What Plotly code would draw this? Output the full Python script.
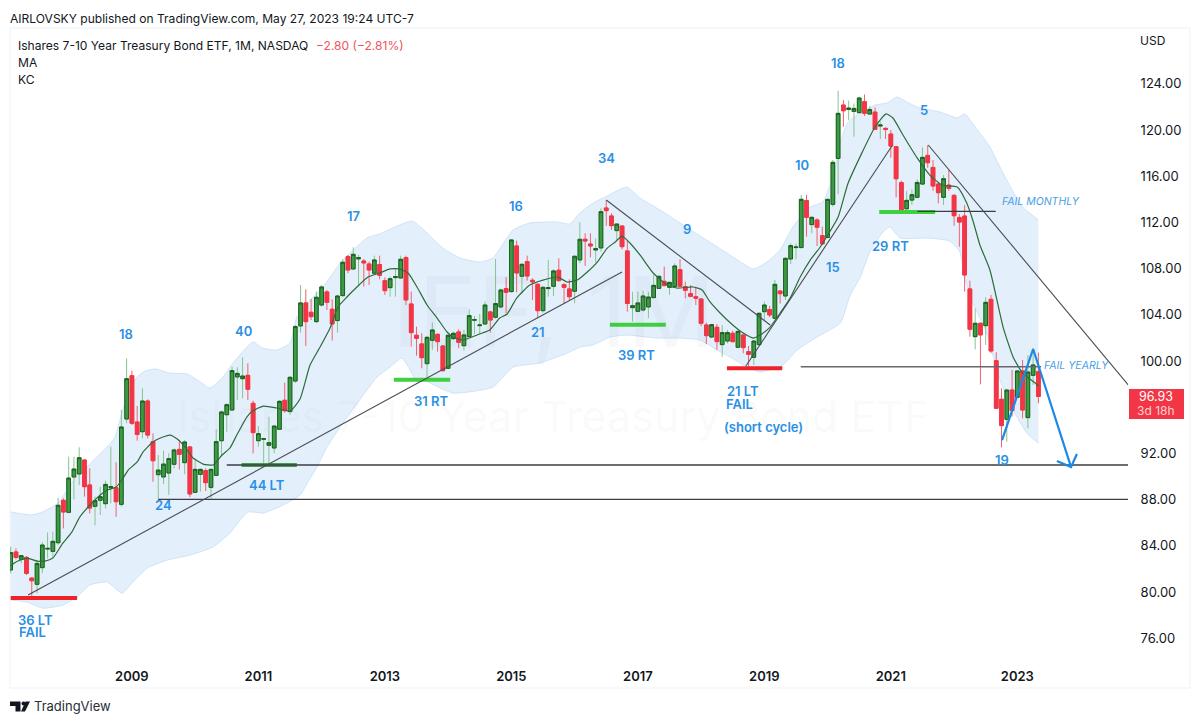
import pandas as pd
import plotly.graph_objects as go

# Monthly IEF candles, Feb 2007 to May 2023
first_month = "2007-02-01"

open_prices = [
    81.91,83.47,82.83,83.00,81.21,80.67,82.11,83.72,83.52,84.27,
    87.94,86.90,89.96,90.22,91.43,89.27,87.42,87.94,87.65,89.03,
    89.03,87.59,94.98,98.73,94.72,93.88,96.54,93.02,90.16,89.96,
    90.30,91.06,92.35,91.20,92.56,88.63,90.19,90.51,89.06,90.10,
    93.10,95.35,95.76,98.62,98.47,98.76,96.34,93.10,93.22,92.70,
    92.47,94.09,96.60,95.62,98.27,103.04,105.03,104.22,103.41,104.85,
    105.98,104.48,103.50,105.66,109.04,107.97,108.84,108.66,108.40,107.60,
    108.35,106.96,106.35,107.22,107.19,108.95,104.94,102.23,101.48,99.77,
    101.79,102.31,101.30,99.37,101.94,102.52,101.33,102.11,103.53,103.06,
    103.21,104.25,103.79,104.68,106.27,106.01,109.96,107.34,108.61,106.99,
    106.64,104.36,106.27,106.47,107.86,106.61,106.24,106.04,108.75,110.54,
    110.13,109.61,109.79,113.25,112.56,111.29,111.69,109.53,104.62,104.30,
    104.42,104.68,105.49,106.29,106.90,106.38,106.44,107.91,106.44,105.83,
    105.57,105.37,103.12,102.08,102.92,101.42,101.73,102.40,101.19,102.25,
    100.81,100.32,101.42,104.27,104.45,103.70,106.06,105.63,108.83,109.82,
    109.82,113.89,111.81,112.21,110.85,110.70,113.56,117.54,122.16,121.78,
    121.61,121.50,122.45,121.38,121.55,120.34,120.14,119.65,118.55,115.44,
    113.18,113.93,114.17,115.32,117.80,116.76,115.32,114.17,115.23,114.34,
    112.43,112.55,106.24,102.11,103.27,103.06,105.34,100.03,96.69,94.95,
    97.49,96.86,99.14,95.10,98.76,99.08,
]
high_prices = [
    83.93,83.78,83.20,83.12,81.27,82.77,84.33,85.17,85.23,88.17,
    88.11,91.72,91.72,92.53,91.49,90.71,88.26,89.12,89.64,92.59,
    91.23,95.76,100.23,99.17,96.11,97.64,96.68,93.74,91.86,92.24,
    92.01,92.44,93.16,93.16,92.64,91.57,90.71,90.71,90.71,94.09,
    95.70,96.34,99.51,99.45,100.32,99.80,96.57,94.37,93.36,95.18,
    94.46,96.62,98.13,98.70,103.12,106.58,106.21,105.37,106.01,106.58,
    106.15,105.34,105.72,108.81,109.18,109.85,109.18,108.84,108.61,109.12,
    109.12,107.25,107.31,108.03,109.12,109.12,106.01,102.98,102.40,102.17,
    103.35,102.40,101.39,102.29,102.54,102.75,102.69,104.48,103.90,104.07,
    105.14,104.36,108.84,106.27,107.25,110.54,110.42,108.46,109.12,107.16,
    106.73,106.50,108.75,107.94,108.89,106.73,107.08,109.12,112.01,111.06,
    111.06,110.62,113.22,113.94,112.79,111.92,111.69,110.42,106.00,106.00,
    106.09,106.00,107.45,107.45,108.17,106.87,108.46,108.81,106.87,106.58,
    106.44,105.43,103.32,103.21,103.21,103.12,102.69,102.63,102.63,102.40,
    101.30,101.82,104.19,105.14,104.77,107.02,106.15,108.98,110.19,110.19,
    114.38,114.38,112.50,112.36,111.63,114.08,117.40,123.40,122.59,122.54,
    122.30,122.88,123.08,122.07,121.96,120.72,120.23,120.00,118.61,115.61,
    114.71,114.86,115.72,118.49,118.70,117.40,115.52,116.10,116.53,114.45,
    112.72,113.50,106.96,104.56,103.32,105.52,105.72,100.76,97.64,97.58,
    99.23,99.23,100.09,100.52,101.10,100.73,
]
low_prices = [
    81.62,82.83,82.48,81.47,79.66,79.89,81.62,82.92,83.06,84.07,
    85.51,86.81,88.02,89.27,88.26,86.81,85.77,86.67,87.25,87.68,
    86.52,87.39,94.61,94.46,93.10,93.31,93.31,89.55,88.02,89.35,
    88.40,90.71,90.62,90.19,88.20,88.60,88.69,88.75,88.11,90.05,
    91.86,93.88,95.70,96.62,96.77,96.62,92.01,92.59,90.91,90.97,
    92.01,94.03,95.53,95.33,98.10,102.46,101.30,103.55,103.27,104.71,
    104.42,101.77,102.46,105.57,107.60,107.88,106.58,106.44,106.58,107.45,
    107.08,105.72,105.57,105.57,107.16,104.85,101.25,100.47,99.37,98.59,
    100.96,100.81,99.08,99.31,101.82,101.10,100.90,102.03,102.34,102.34,
    103.12,102.46,103.67,104.56,104.13,105.92,105.95,105.86,106.96,105.29,
    103.70,104.19,105.57,105.63,106.87,105.00,105.29,105.00,108.46,108.23,
    108.98,108.52,109.47,111.69,111.35,110.48,109.67,104.27,103.41,104.22,
    104.27,103.70,105.43,106.24,106.47,105.72,106.38,106.38,105.43,105.52,
    104.85,103.03,101.47,101.97,100.96,100.38,101.53,101.59,101.10,100.67,
    99.51,99.66,101.30,103.55,103.78,103.61,104.98,105.28,108.40,108.81,
    109.76,110.77,111.06,109.96,110.04,110.62,113.36,114.45,120.28,120.86,
    119.42,121.44,121.21,121.38,120.00,119.22,119.22,117.60,114.17,112.78,
    112.93,113.50,114.08,115.23,116.73,114.74,113.65,113.50,114.74,111.71,
    109.89,106.01,102.11,101.00,97.98,101.39,100.67,95.91,92.53,93.02,
    95.19,96.77,95.04,94.18,97.93,96.34,
]
close_prices = [
    83.41,83.00,83.15,81.62,80.98,82.48,84.07,83.78,84.39,87.51,
    86.93,89.87,90.65,91.63,89.12,87.27,87.91,88.26,89.32,89.12,
    87.82,94.29,98.47,94.61,93.65,96.54,93.59,91.37,90.56,91.08,
    91.55,92.30,91.92,92.99,88.49,90.62,90.62,89.47,90.62,93.02,
    95.59,96.22,99.17,98.93,98.70,97.55,93.80,93.71,93.28,92.93,
    94.37,96.51,95.70,98.59,102.98,105.03,103.41,103.84,105.52,106.41,
    105.08,103.21,105.63,108.55,107.88,109.24,108.95,108.49,107.88,108.75,
    107.42,106.09,107.13,107.31,108.81,105.29,102.46,101.97,100.29,102.05,
    102.69,101.68,99.17,102.23,102.40,101.62,102.26,103.93,103.58,103.12,
    104.85,103.55,104.97,106.15,105.95,110.48,107.62,108.37,107.36,106.85,
    104.36,106.38,106.35,107.80,106.96,106.38,105.57,109.07,110.54,110.39,
    109.96,109.73,112.93,113.02,111.72,111.86,109.90,104.98,104.79,105.03,
    105.63,105.54,106.55,107.33,106.53,106.81,108.23,106.47,106.12,105.60,
    105.43,103.27,102.20,103.15,101.68,102.46,102.46,101.68,102.57,101.16,
    100.58,101.73,104.13,104.85,103.99,106.64,105.83,108.89,109.99,109.87,
    114.00,112.44,112.44,111.58,110.15,113.99,117.20,121.44,121.67,121.90,
    121.87,122.77,121.44,121.78,120.05,120.43,120.05,118.61,115.78,112.84,
    113.91,114.40,115.46,117.63,117.17,115.15,114.57,115.78,114.95,112.58,
    112.03,107.45,102.75,103.27,102.26,105.08,100.87,95.91,94.41,97.49,
    95.71,99.14,95.76,99.05,99.66,96.93,
]

# Moving average, sampled along the month axis
ma_months = [
    0,1,3.1,5,6.5,8,9.9,11.6,13.1,14.7,17,18.3,20,21.1,22.3,24,25.1,27,28.9,30.2,
    31.6,33.1,34.6,36.5,38.4,40.1,41.6,42.9,44.8,45.9,47.9,50.5,53,54.9,56.8,58.7,
    60.6,62.1,63.8,65.7,67.8,70,72,73.8,75.4,77.1,79,80.9,82.8,83.9,85.8,89,90.9,
    92.8,94.2,96,98.5,101,103.8,105.6,107.5,109.4,111.3,113.2,114.7,116,117.5,119.4,
    121.9,124.6,126.4,129.5,131.2,132.7,134.6,137,139,140.9,142.2,144.1,146,147.9,
    149.8,151.7,153.6,157,158.9,164,166.1,167.4,169.3,172,174.4,176.7,179.6,181.4,
    182.6,183.9,185.8,188.3,190.2,192,194.4,195,
]
ma_values = [
    82.25,82.60,82.94,82.68,82.68,82.94,84.24,85.19,86.49,87.36,88.40,88.83,89.09,89.70,
    90.56,91.26,92.12,92.99,93.42,93.59,93.25,92.55,91.60,91.08,91.00,91.86,92.47,93.59,
    95.15,95.67,96.10,95.93,95.67,96.71,99.65,101.21,102.86,104.68,105.54,106.41,107.27,
    107.62,107.97,107.97,107.62,106.41,104.85,103.72,102.51,102.08,101.82,102.34,102.68,
    103.72,104.07,105.45,106.58,107.01,107.27,106.84,107.01,107.71,108.57,109.78,110.30,
    110.82,110.22,109.18,107.62,106.58,106.32,106.41,106.15,105.11,104.16,103.12,102.42,
    101.99,102.25,102.94,104.16,105.45,107.27,108.74,109.87,112.47,115.41,120.26,121.39,
    121.04,119.57,117.58,116.10,115.24,115.06,113.68,112.12,110.04,107.88,102.94,100.35,
    98.96,98.10,97.84,
]

# Keltner channel edges
kc_upper_months = [
    0,4,6,9,12,18.3,19.8,21.1,22.3,24,25.5,27.4,30.2,33.5,36,37.8,40.3,42.2,46,47.7,50.5,
    53,54.3,56.8,59.3,62.5,65,67.6,70,72.5,76.2,79,82,85.2,89,91.5,95.3,98.5,103.7,106.1,
    108,110.5,112.8,116.9,119.4,123.2,127,131.4,135.9,140.9,143.5,146,148.4,151.7,154.1,
    156.4,157.4,158.9,161.2,164,166.3,168.2,170,172.5,176.3,179.6,181,183.4,185.8,187.7,
    190,192,195,
]
kc_upper = [
    86.93,86.67,86.93,87.71,89.70,92.55,93.42,95.50,97.23,98.61,99.13,99.31,98.96,98.87,
    98.18,97.66,98.61,99.83,101.65,101.13,100.95,101.56,103.81,105.28,106.41,108.48,109.61,
    110.65,111.00,111.52,112.12,111.08,109.78,108.92,108.57,108.92,111.34,111.95,112.03,
    111.86,112.81,113.68,114.20,115.06,114.11,113.07,111.95,110.65,109.35,107.97,108.57,
    109.61,111.60,113.33,113.77,116.54,118.87,120.69,121.47,122.16,122.34,122.86,122.42,
    121.90,121.56,121.04,121.39,120.00,118.53,116.80,114.81,113.33,112.21,
]
kc_lower_months = [
    0,3.1,6.1,9.9,12.6,15,18.3,21.1,23.2,25.9,29.7,34,38.4,41.6,45,47.9,51.7,54.9,56.4,
    58.1,60,63,66.2,69.5,72,74.2,75.8,77.1,78.2,83.9,91.5,95.3,100.4,105.6,108,110.5,113.7,
    116.9,122.6,127,130.8,134,136.5,139.7,142.2,146.5,149.2,153,157.4,159.3,161.2,163,165.5,
    166.8,168.8,173.9,178.2,180.1,181,182.6,185.2,187.7,190.2,192.8,195,
]
kc_lower = [
    79.31,79.13,78.61,78.87,79.57,80.61,80.87,79.91,80.87,82.08,82.77,83.20,83.90,85.11,
    86.93,86.84,87.53,88.40,89.52,90.82,92.55,94.63,96.62,98.61,99.48,100.26,99.22,98.18,
    98.35,97.23,97.75,99.48,99.83,100.69,101.21,101.39,102.08,102.25,101.99,101.99,101.82,
    100.95,100.35,99.48,99.05,99.65,100.95,102.08,103.29,105.71,107.27,109.44,111.17,111.60,
    110.65,110.65,110.39,109.44,107.27,105.02,102.42,98.35,95.76,93.77,92.90,
]

# Hand-drawn levels: (first month, last month, price, colour, width)
level_lines = [
    (0, 12.6, 79.48, "#ee2228", 4),
    (43.8, 54.3, 91.0, "#43a047", 4),
    (72.7, 83.4, 98.38, "#3fd03f", 4),
    (113.7, 124.3, 103.14, "#3fd03f", 4),
    (135.9, 146.4, 99.37, "#ee2228", 4),
    (164.8, 175.4, 112.90, "#3fd03f", 4),
    (41, 212, 91.0, "#3a3d45", 1.3),
    (28, 212, 88.03, "#3a3d45", 1.3),
    (149.9, 195.5, 99.51, "#66686e", 1.5),
    (172, 186.9, 112.96, "#3a3d45", 1.3),
]

# Hand-drawn trend lines: (months, prices)
trend_lines = [
    ([3.3, 116], [79.74, 107.71]),
    ([113, 144.1], [113.94, 103.12]),
    ([139.5, 167.2], [99.57, 118.61]),
    ([174.1, 212.2], [118.70, 97.84]),
]

# Projected path with its arrowhead
path_months = [188.1, 194, 201.2]
path_prices = [93.16, 101.04, 90.82]
head_months = [198.5, 201.2, 202.3]
head_prices = [91.34, 90.82, 91.95]

# Notes on the chart: (text, month, price)
cycle_notes = [
    ("18", 21.9, 102.34), ("40", 44.1, 102.6), ("17", 65, 112.55), ("16", 95.9, 113.42),
    ("34", 113.1, 117.58), ("9", 128.3, 111.43), ("10", 150.1, 116.97), ("18", 157, 125.8),
    ("5", 173.3, 121.73), ("24", 28.9, 87.53), ("44 LT", 48.6, 89.26), ("31 RT", 79.9, 96.54),
    ("21", 100, 102.51), ("39 RT", 118.8, 100.52), ("21 LT", 139, 97.4), ("FAIL", 138.2, 96.28),
    ("(short cycle)", 142.8, 94.29), ("15", 156, 108.14), ("29 RT", 166.9, 109.96),
    ("19", 188.1, 91.43), ("36 LT", 4.8, 77.58), ("FAIL", 4.2, 76.54),
]
italic_notes = [("FAIL MONTHLY", 195.5, 113.77), ("FAIL YEARLY", 202.3, 99.57)]

price_ticks = list(range(76, 128, 4))
UI_FONT = "Inter"
W, H = 1200, 724
PLOT_L, PLOT_R, PLOT_T, PLOT_B = 10, 1128, 28, 658
MONTH_RANGE = [-0.13, 212]
PRICE_RANGE = [74.29, 128.83]

months = pd.date_range(first_month, periods=len(open_prices), freq="MS")
month_index = list(range(len(months)))
year_ticks = [i for i, m in enumerate(months) if m.month == 1 and m.year % 2 == 1]
year_labels = [str(months[i].year) for i in year_ticks]


def paper_x(px):
    return (px - PLOT_L) / (PLOT_R - PLOT_L)


def paper_y(py):
    return (PLOT_B - py) / (PLOT_B - PLOT_T)


fig = go.Figure()

# The band sits on the base axes; everything else uses an overlaid pair so it draws on top
fig.add_trace(go.Scatter(x=kc_upper_months, y=kc_upper, mode="lines",
                         line=dict(color="#cfe3f8", width=1, shape="spline", smoothing=0.5)))
fig.add_trace(go.Scatter(x=kc_lower_months, y=kc_lower, mode="lines", fill="tonexty",
                         fillcolor="#e3f0fc",
                         line=dict(color="#cfe3f8", width=1, shape="spline", smoothing=0.5)))

# Wicks first, then the bodies with their own outline
fig.add_trace(go.Candlestick(
    x=month_index, open=open_prices, high=high_prices, low=low_prices, close=close_prices,
    increasing=dict(line=dict(color="#86c48d", width=1), fillcolor="#388e3c"),
    decreasing=dict(line=dict(color="#f2606e", width=1), fillcolor="#f23645"),
    whiskerwidth=0, xaxis="x2", yaxis="y2",
))
body_top = [max(o, c) for o, c in zip(open_prices, close_prices)]
body_bottom = [min(o, c) for o, c in zip(open_prices, close_prices)]
fig.add_trace(go.Candlestick(
    x=month_index, open=open_prices, high=body_top, low=body_bottom, close=close_prices,
    increasing=dict(line=dict(color="#1b5e20", width=1), fillcolor="#3d9a44"),
    decreasing=dict(line=dict(color="#f23645", width=1), fillcolor="#f23645"),
    whiskerwidth=0, xaxis="x2", yaxis="y2",
))

# Moving average
fig.add_trace(go.Scatter(x=ma_months, y=ma_values, mode="lines", xaxis="x2", yaxis="y2",
                         line=dict(color="#2e6b3a", width=1.2, shape="spline", smoothing=0.5)))

for m0, m1, price, colour, width in level_lines:
    fig.add_trace(go.Scatter(x=[m0, m1], y=[price, price], mode="lines", xaxis="x2", yaxis="y2",
                             line=dict(color=colour, width=width)))
for xs, ys in trend_lines:
    fig.add_trace(go.Scatter(x=xs, y=ys, mode="lines", xaxis="x2", yaxis="y2",
                             line=dict(color="#4a4c52", width=1.1)))
fig.add_trace(go.Scatter(x=path_months, y=path_prices, mode="lines", xaxis="x2", yaxis="y2",
                         line=dict(color="#1e88e5", width=2.2)))
fig.add_trace(go.Scatter(x=head_months, y=head_prices, mode="lines", xaxis="x2", yaxis="y2",
                         line=dict(color="#1e88e5", width=2.2)))

annotations = []


def paper_text(text, px, py, size, color="#131722", anchor="left", weight=400):
    annotations.append(dict(text=text, xref="paper", yref="paper",
                            x=paper_x(px - 2 if anchor == "left" else px), y=paper_y(py),
                            xanchor=anchor, yanchor="middle", showarrow=False,
                            font=dict(family=UI_FONT, size=size, color=color, weight=weight)))


# Faint symbol watermark
paper_text("IEF, 1M", 553, 312, 98, "rgba(120,123,134,0.05)", "center")
paper_text("Ishares 7-10 Year Treasury Bond ETF", 553, 416, 43, "rgba(120,123,134,0.05)", "center")

for text, m, price in cycle_notes:
    annotations.append(dict(text=text, x=m, y=price, showarrow=False,
                            font=dict(family=UI_FONT, size=13, color="#2a8fe6", weight=600)))
for text, m, price in italic_notes:
    annotations.append(dict(text="<i>" + text + "</i>", x=m, y=price, showarrow=False,
                            font=dict(family=UI_FONT, size=10.5, color="#4a9fe8")))

paper_text("AIRLOVSKY published on TradingView.com, May 27, 2023 19:24 UTC-7", 10, 18, 12.05)
paper_text("Ishares 7-10 Year Treasury Bond ETF, 1M, NASDAQ", 18, 45, 12.05)
paper_text("−2.80 (−2.81%)", 316, 45, 12.05, "#f0525f")
paper_text("MA", 18, 62, 12.05)
paper_text("KC", 18, 79, 12.05)
paper_text("USD", 1152, 40, 12, anchor="center")
paper_text("TradingView", 34, 706, 13, "#2a2e39")

last_close = close_prices[-1]
annotations.append(dict(text=f"{last_close:.2f}", xref="paper", x=paper_x(1137), y=last_close,
                        xanchor="left", showarrow=False,
                        font=dict(family=UI_FONT, size=12.5, color="#ffffff")))
annotations.append(dict(text="3d 18h", xref="paper", x=paper_x(1135), y=last_close - 1.25,
                        xanchor="left", showarrow=False,
                        font=dict(family=UI_FONT, size=12, color="#fbd0d4")))

shapes = [
    # Outer frame of the chart pane
    dict(type="rect", xref="paper", yref="paper", x0=paper_x(10), x1=paper_x(1190),
         y0=paper_y(688), y1=paper_y(28), line=dict(color="#eff1f5", width=1), layer="below"),
    # Last price tag
    dict(type="rect", xref="paper", yref="y", x0=paper_x(1129), x1=paper_x(1184),
         y0=last_close - 1.95, y1=last_close + 0.65, fillcolor="#f23645", line=dict(width=0)),
]


def logo_path(points):
    return "M" + " L".join(f"{paper_x(x):.5f},{paper_y(y):.5f}" for x, y in points) + " Z"


for outline in (
    [(10, 701.5), (20.5, 701.5), (20.5, 711.5), (15.5, 711.5), (15.5, 706), (10, 706)],
    [(25.5, 701.5), (30, 701.5), (25, 711.5), (21, 711.5)],
):
    shapes.append(dict(type="path", xref="paper", yref="paper", path=logo_path(outline),
                       fillcolor="#131722", line=dict(width=0)))
shapes.append(dict(type="circle", xref="paper", yref="paper", x0=paper_x(21.5), x1=paper_x(25.5),
                   y0=paper_y(705.5), y1=paper_y(701.5), fillcolor="#131722", line=dict(width=0)))

fig.update_layout(
    width=W, height=H,
    margin=dict(l=PLOT_L, r=W - PLOT_R, t=PLOT_T, b=H - PLOT_B, autoexpand=False),
    paper_bgcolor="white", plot_bgcolor="white",
    showlegend=False, hovermode=False,
    boxgap=0.3, boxgroupgap=0,
    annotations=annotations, shapes=shapes,
    xaxis=dict(
        range=MONTH_RANGE, rangeslider=dict(visible=False), showgrid=False, zeroline=False,
        tickmode="array", tickvals=year_ticks, ticktext=year_labels,
        ticks="outside", ticklen=6, tickcolor="rgba(0,0,0,0)",
        tickfont=dict(family=UI_FONT, size=13, color="#131722", weight=600), showline=False,
    ),
    yaxis=dict(
        range=PRICE_RANGE, side="right", showgrid=False, zeroline=False,
        tickmode="array", tickvals=price_ticks, ticktext=[f"{t:.2f}" for t in price_ticks],
        ticks="outside", ticklen=9, tickcolor="rgba(0,0,0,0)",
        tickfont=dict(family=UI_FONT, size=13, color="#131722"), showline=False,
    ),
    xaxis2=dict(range=MONTH_RANGE, overlaying="x", visible=False,
                rangeslider=dict(visible=False)),
    yaxis2=dict(range=PRICE_RANGE, overlaying="y", visible=False, side="right"),
)

fig.write_html("out.html", config=dict(displayModeBar=False))
